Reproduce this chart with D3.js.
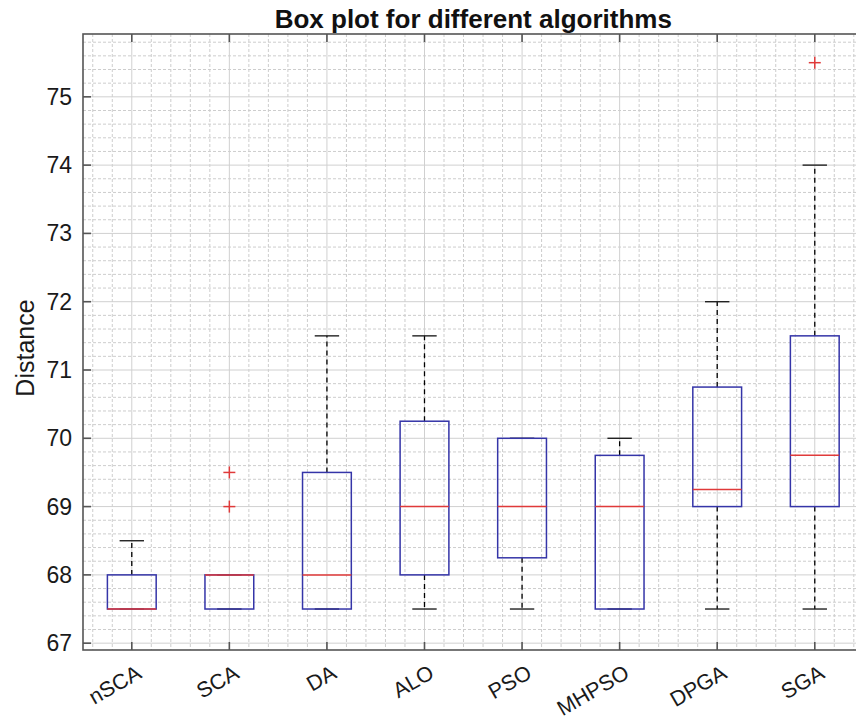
<!DOCTYPE html>
<html>
<head>
<meta charset="utf-8">
<script src="https://cdn.jsdelivr.net/npm/d3@7"></script>
<style>
  body { margin: 0; background: #fff; }
  svg { font-family: "Liberation Sans", Arial, Helvetica, sans-serif; }
</style>
</head>
<body>
<script>
// data
var algorithms = ["nSCA", "SCA", "DA", "ALO", "PSO", "MHPSO", "DPGA", "SGA"]
var lowerWhisker = [67.5, 67.5, 67.5, 67.5, 67.5, 67.5, 67.5, 67.5]
var q1 = [67.5, 67.5, 67.5, 68, 68.25, 67.5, 69, 69]
var median = [67.5, 68, 68, 69, 69, 69, 69.25, 69.75]
var q3 = [68, 68, 69.5, 70.25, 70, 69.75, 70.75, 71.5]
var upperWhisker = [68.5, 68, 71.5, 71.5, 70, 70, 72, 74]
var outliers = [[], [69, 69.5], [], [], [], [], [], [75.5]]
var yTicks = [67, 68, 69, 70, 71, 72, 73, 74, 75]

var W = 856, H = 724
var plotLeft = 83, plotTop = 34, plotBottom = 650
var step = 97.57

var svg = d3.select("body").append("svg")
  .attr("width", W)
  .attr("height", H)

svg.append("rect").attr("width", W).attr("height", H).attr("fill", "#fff")

var x = d3.scaleLinear().domain([0.5, 8.5]).range([plotLeft, plotLeft + 8 * step])
var y = d3.scaleLinear().domain([66.9, 75.92]).range([plotBottom, plotTop])

var plotRight = x(8.5)

/* grid */
var grid = svg.append("g")

var minorX = d3.range(3, 43).map(d => d / 5).filter(d => Math.abs(d - Math.round(d)) > 0.01)
var minorY = d3.range(335, 380).map(d => d / 5).filter(d => Math.abs(d - Math.round(d)) > 0.01 && d < 75.92)

grid.selectAll("line.mx").data(minorX).enter().append("line")
  .attr("x1", d => x(d)).attr("x2", d => x(d))
  .attr("y1", plotTop).attr("y2", plotBottom)
  .attr("stroke", "#cdcdcd").attr("stroke-width", 1).attr("stroke-dasharray", "3,2")

grid.selectAll("line.my").data(minorY).enter().append("line")
  .attr("x1", plotLeft).attr("x2", plotRight)
  .attr("y1", d => y(d)).attr("y2", d => y(d))
  .attr("stroke", "#cdcdcd").attr("stroke-width", 1).attr("stroke-dasharray", "3,2")

grid.selectAll("line.gx").data(d3.range(1, 9)).enter().append("line")
  .attr("x1", d => x(d)).attr("x2", d => x(d))
  .attr("y1", plotTop).attr("y2", plotBottom)
  .attr("stroke", "#d0d0d0").attr("stroke-width", 1)

grid.selectAll("line.gy").data(yTicks).enter().append("line")
  .attr("x1", plotLeft).attr("x2", plotRight)
  .attr("y1", d => y(d)).attr("y2", d => y(d))
  .attr("stroke", "#d0d0d0").attr("stroke-width", 1)

/* boxes */
var boxW = 0.5, capW = 0.25
var idx = d3.range(algorithms.length)
var boxes = svg.append("g")

// whiskers
boxes.selectAll("line.wu").data(idx).enter().append("line")
  .attr("x1", i => x(i + 1)).attr("x2", i => x(i + 1))
  .attr("y1", i => y(q3[i])).attr("y2", i => y(upperWhisker[i]))
  .attr("stroke", "#000").attr("stroke-width", 1.3).attr("stroke-dasharray", "5,4")

boxes.selectAll("line.wl").data(idx).enter().append("line")
  .attr("x1", i => x(i + 1)).attr("x2", i => x(i + 1))
  .attr("y1", i => y(q1[i])).attr("y2", i => y(lowerWhisker[i]))
  .attr("stroke", "#000").attr("stroke-width", 1.3).attr("stroke-dasharray", "5,4")

boxes.selectAll("line.cu").data(idx).enter().append("line")
  .attr("x1", i => x(i + 1 - capW / 2)).attr("x2", i => x(i + 1 + capW / 2))
  .attr("y1", i => y(upperWhisker[i])).attr("y2", i => y(upperWhisker[i]))
  .attr("stroke", "#222").attr("stroke-width", 1.4)

boxes.selectAll("line.cl").data(idx).enter().append("line")
  .attr("x1", i => x(i + 1 - capW / 2)).attr("x2", i => x(i + 1 + capW / 2))
  .attr("y1", i => y(lowerWhisker[i])).attr("y2", i => y(lowerWhisker[i]))
  .attr("stroke", "#222").attr("stroke-width", 1.4)

boxes.selectAll("rect.box").data(idx).enter().append("rect")
  .attr("x", i => x(i + 1 - boxW / 2))
  .attr("width", i => x(i + 1 + boxW / 2) - x(i + 1 - boxW / 2))
  .attr("y", i => y(q3[i]))
  .attr("height", i => y(q1[i]) - y(q3[i]))
  .attr("fill", "none").attr("stroke", "#3535a8").attr("stroke-width", 1.5)

boxes.selectAll("line.med").data(idx).enter().append("line")
  .attr("x1", i => x(i + 1 - boxW / 2)).attr("x2", i => x(i + 1 + boxW / 2))
  .attr("y1", i => y(median[i])).attr("y2", i => y(median[i]))
  .attr("stroke", "#e03a3a").attr("stroke-width", 1.5)

// outliers as "+"
var pts = []
outliers.forEach((o, i) => o.forEach(v => pts.push({ i: i, v: v })))
var plus = boxes.selectAll("g.out").data(pts).enter().append("g")
  .attr("transform", d => "translate(" + x(d.i + 1) + "," + y(d.v) + ")")
plus.append("line").attr("x1", -6).attr("x2", 6).attr("stroke", "#e03a3a").attr("stroke-width", 1.5)
plus.append("line").attr("y1", -6).attr("y2", 6).attr("stroke", "#e03a3a").attr("stroke-width", 1.5)

/* frame and ticks */
var frame = svg.append("g")
frame.append("rect")
  .attr("x", plotLeft).attr("y", plotTop)
  .attr("width", plotRight - plotLeft).attr("height", plotBottom - plotTop)
  .attr("fill", "none").attr("stroke", "#555").attr("stroke-width", 1.6)

frame.selectAll("line.tb").data(d3.range(1, 9)).enter().append("line")
  .attr("x1", d => x(d)).attr("x2", d => x(d))
  .attr("y1", plotBottom).attr("y2", plotBottom - 8)
  .attr("stroke", "#555").attr("stroke-width", 1.6)
frame.selectAll("line.tt").data(d3.range(1, 9)).enter().append("line")
  .attr("x1", d => x(d)).attr("x2", d => x(d))
  .attr("y1", plotTop).attr("y2", plotTop + 8)
  .attr("stroke", "#555").attr("stroke-width", 1.6)
frame.selectAll("line.tl").data(yTicks).enter().append("line")
  .attr("x1", plotLeft).attr("x2", plotLeft + 8)
  .attr("y1", d => y(d)).attr("y2", d => y(d))
  .attr("stroke", "#555").attr("stroke-width", 1.6)

/* labels */
svg.selectAll("text.yt").data(yTicks).enter().append("text")
  .attr("x", plotLeft - 11).attr("y", d => y(d))
  .attr("dy", "0.35em")
  .attr("text-anchor", "end")
  .attr("font-size", 23)
  .attr("fill", "#1a1a1a")
  .text(d => d)

svg.selectAll("text.xt").data(idx).enter().append("text")
  .attr("transform", i => "translate(" + (x(i + 1) + 3) + "," + (plotBottom + 13) + ") rotate(-30)")
  .attr("dy", "0.75em")
  .attr("text-anchor", "end")
  .attr("font-size", 21.5)
  .attr("fill", "#1a1a1a")
  .text(i => algorithms[i])

svg.append("text")
  .attr("x", (plotLeft + plotRight) / 2).attr("y", 28)
  .attr("text-anchor", "middle")
  .attr("font-size", 26)
  .attr("font-weight", "bold")
  .attr("fill", "#111")
  .text("Box plot for different algorithms")

svg.append("text")
  .attr("transform", "translate(34," + ((plotTop + plotBottom) / 2 + 6) + ") rotate(-90)")
  .attr("text-anchor", "middle")
  .attr("font-size", 25)
  .attr("fill", "#1a1a1a")
  .text("Distance")
</script>
</body>
</html>
